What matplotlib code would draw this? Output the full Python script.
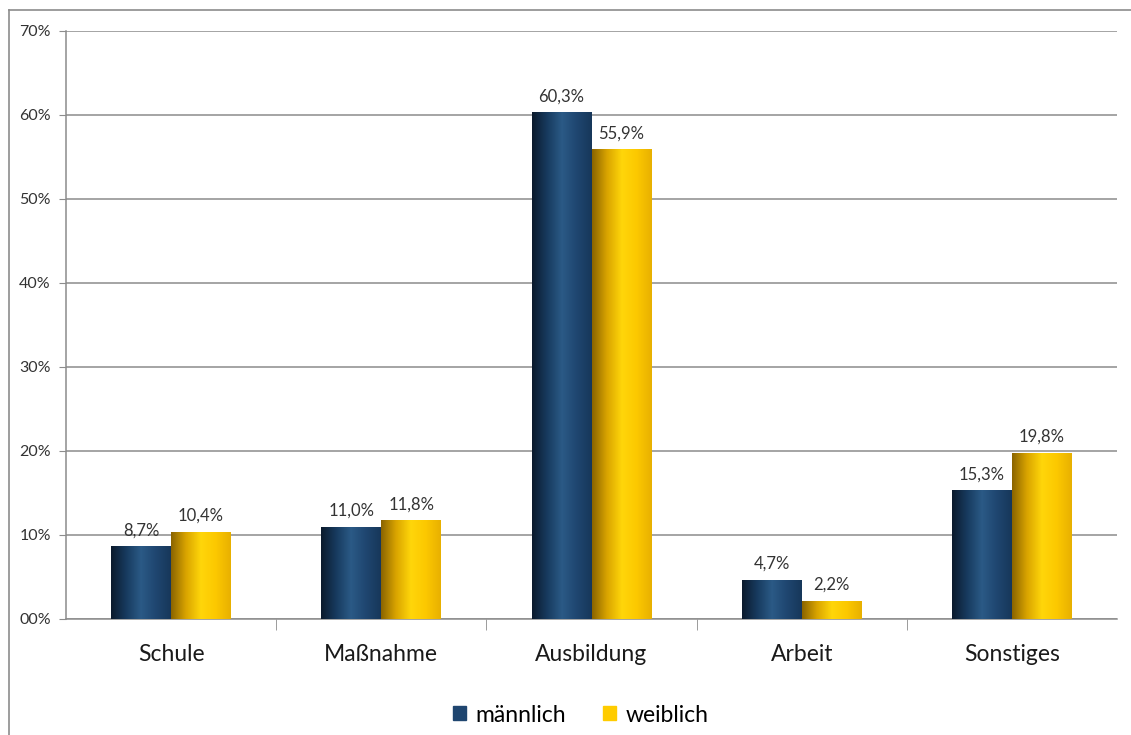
import numpy as np
import matplotlib.pyplot as plt
from matplotlib.colors import LinearSegmentedColormap
from matplotlib.lines import Line2D

# Data
categories = ["Schule", "Maßnahme", "Ausbildung", "Arbeit", "Sonstiges"]
maennlich = [8.7, 11.0, 60.3, 4.7, 15.3]
weiblich = [10.4, 11.8, 55.9, 2.2, 19.8]
series_names = ["männlich", "weiblich"]

plt.rcParams['font.family'] = ['Lato', 'DejaVu Sans']

navy_cmap = LinearSegmentedColormap.from_list(
    "navy", ["#0b1a2c", "#173a5e", "#2b5a86", "#1f4670", "#17375a"])
gold_cmap = LinearSegmentedColormap.from_list(
    "gold", ["#8a6400", "#d9a400", "#ffd60a", "#fcc800", "#e8b000"])

fig = plt.figure(figsize=(11.31, 7.35), dpi=100)
ax = fig.add_axes([66/1131, 1-619/735, (1117-66)/1131, (619-31)/735])

# outer chart frame (cropped at right and bottom)
fig.add_artist(Line2D([9/1131, 1], [1-10/735, 1-10/735], transform=fig.transFigure,
                      color="#8c8c8c", lw=1.2))
fig.add_artist(Line2D([9/1131, 9/1131], [0, 1-10/735], transform=fig.transFigure,
                      color="#8c8c8c", lw=1.2))

x = np.arange(len(categories))
w = 0.285
grad = np.linspace(0, 1, 256).reshape(1, -1)

def draw_bars(xs, vals, cmap):
    bars = ax.bar(xs, vals, w, color="none", edgecolor="none", zorder=3)
    for b in bars:
        x0, y0 = b.get_x(), b.get_y()
        im = ax.imshow(grad, cmap=cmap, aspect="auto", zorder=3,
                       extent=[x0, x0 + b.get_width(), y0, y0 + b.get_height()])
        im.set_clip_path(b)
    return bars

b1 = draw_bars(x - w/2, maennlich, navy_cmap)
b2 = draw_bars(x + w/2, weiblich, gold_cmap)

for bars, vals in [(b1, maennlich), (b2, weiblich)]:
    for b, v in zip(bars, vals):
        ax.text(b.get_x() + b.get_width()/2, v + 0.9, f"{v:.1f}%".replace(".", ","),
                ha="center", va="bottom", fontsize=12, color="#333333")

ax.set_xlim(-0.5, len(categories) - 0.5)
ax.set_ylim(0, 70)
ax.set_yticks(np.arange(0, 71, 10))
ax.set_yticklabels([f"{v}%" if v else "00%" for v in range(0, 71, 10)], fontsize=11.5, color="#333333")
ax.yaxis.grid(True, color="#8c8c8c", lw=1.1, zorder=0)
ax.set_axisbelow(True)

ax.set_xticks(x)
ax.set_xticklabels(categories, fontsize=16.5, color="#1a1a1a")
ax.tick_params(axis="x", length=0, pad=18)
ax.set_xticks(np.arange(0.5, len(categories) - 0.5), minor=True)
ax.tick_params(axis="x", which="minor", length=8, color="#8c8c8c")
ax.tick_params(axis="y", length=5, color="#8c8c8c", pad=6)

for s in ["top", "right"]:
    ax.spines[s].set_visible(False)
for s in ["left", "bottom"]:
    ax.spines[s].set_color("#8c8c8c")
    ax.spines[s].set_linewidth(1.1)

handles = [plt.Rectangle((0, 0), 1, 1, color="#1f4670"),
           plt.Rectangle((0, 0), 1, 1, color="#ffcc00")]
fig.legend(handles, series_names, loc="center", bbox_to_anchor=(581/1131, 1-715/735),
           ncol=2, frameon=False, fontsize=16.5, handlelength=0.55, handleheight=0.55,
           handletextpad=0.45, columnspacing=1.6)

fig.savefig("out.png", dpi=100)
